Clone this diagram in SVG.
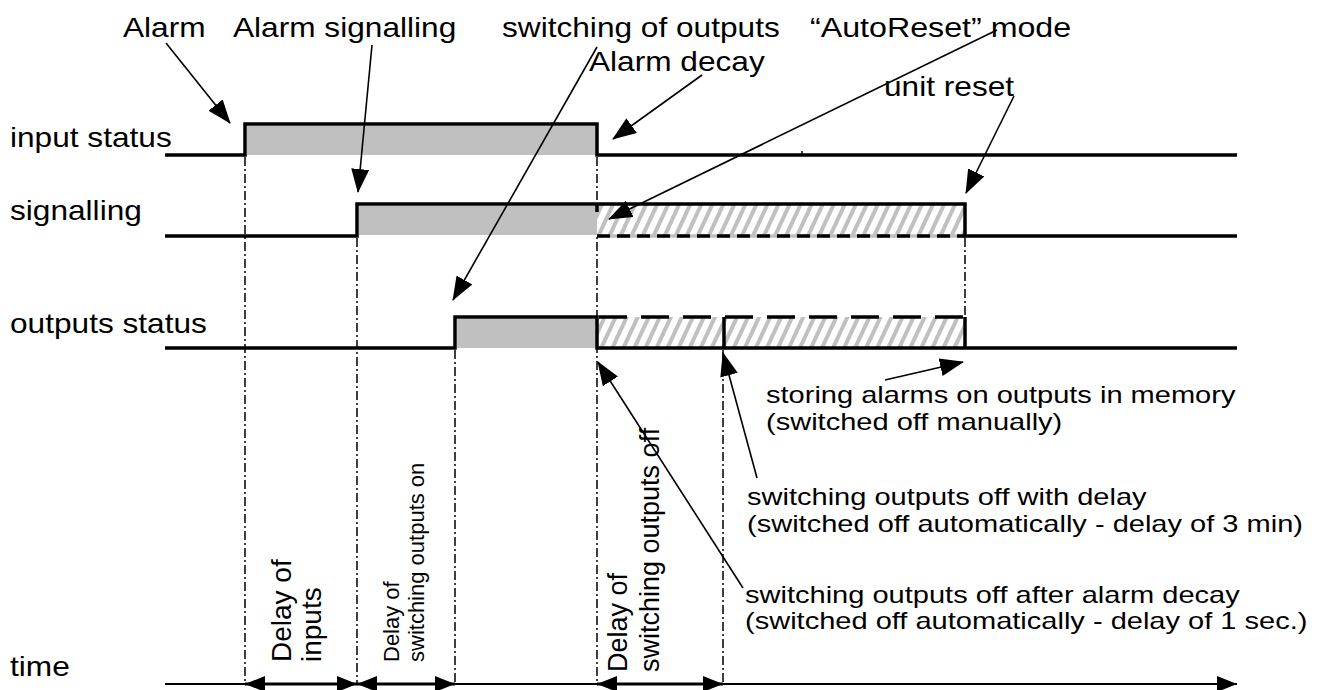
<svg xmlns="http://www.w3.org/2000/svg" width="1329" height="690" viewBox="0 0 1329 690">
<defs>
<style>
.t{font-family:"Liberation Sans",Arial,sans-serif;font-size:28px;fill:#000}
.s{font-family:"Liberation Sans",Arial,sans-serif;font-size:24px;fill:#000}
.rb{font-family:"Liberation Sans",Arial,sans-serif;font-size:27px;fill:#000}
.rs{font-family:"Liberation Sans",Arial,sans-serif;font-size:22px;fill:#000}
.wave{fill:none;stroke:#000;stroke-width:3.5;stroke-linejoin:miter;stroke-linecap:butt}
.dd{fill:none;stroke:#000;stroke-width:1.5;stroke-dasharray:9 3 2 3}
.ann{fill:none;stroke:#000;stroke-width:1.6;marker-end:url(#ah)}
.dim{fill:none;stroke:#000;stroke-width:3;marker-start:url(#dh);marker-end:url(#dh)}
.gray{fill:#c0c0c0}
.hat{fill:url(#hatch)}
</style>
<pattern id="hatch" width="10" height="10" patternUnits="userSpaceOnUse" patternTransform="rotate(25)">
<rect width="10" height="10" fill="#fff"/>
<rect width="4" height="10" fill="#c0c0c0"/>
</pattern>
<marker id="ah" viewBox="0 0 24 18" refX="23" refY="9" markerWidth="24" markerHeight="18" markerUnits="userSpaceOnUse" orient="auto"><path d="M0,0 L24,9 L0,18 z" fill="#000"/></marker>
<marker id="dh" viewBox="0 0 20 16" refX="20" refY="8" markerWidth="20" markerHeight="16" markerUnits="userSpaceOnUse" orient="auto-start-reverse"><path d="M0,0 L20,8 L0,16 z" fill="#000"/></marker>
</defs>
<rect width="1329" height="690" fill="#fff"/>

<g id="guides">
<path class="dd" d="M245,157 V684"/>
<path class="dd" d="M357,238 V684"/>
<path class="dd" d="M455,350 V684"/>
<path class="dd" d="M597,157 V684"/>
<path class="dd" d="M723,350 V684"/>
<path class="dd" d="M965,238 V317"/>
</g>

<g id="input-status">
<rect class="gray" x="247" y="126" width="349" height="29"/>
<path class="wave" d="M165,155 H245 V124 H597 V155 H1237"/>
<path d="M802,151 V154" stroke="#000" stroke-width="1.5"/>
<text class="t" transform="translate(10,147) scale(1.13,1)">input status</text>
</g>

<g id="signalling">
<rect class="gray" x="359" y="206" width="238" height="29"/>
<rect class="hat" x="597" y="204" width="368" height="32"/>
<path d="M599,236 H965" stroke="#c0c0c0" stroke-width="3.5"/>
<path class="wave" d="M165,236 H357 V204 H965 V236 H1237"/>
<path class="wave" d="M597,204 V212"/>
<path class="wave" d="M597,236 H965" stroke-dasharray="13 7"/>
<text class="t" transform="translate(10,220) scale(1.13,1)">signalling</text>
</g>

<g id="outputs-status">
<rect class="gray" x="457" y="319" width="140" height="29"/>
<rect class="hat" x="597" y="317" width="368" height="31"/>
<path class="wave" d="M165,348 H455 V317 H597 V348 H1237"/>
<path class="wave" d="M724,317 V348 M965,317 V348"/>
<path class="wave" d="M599,317 H965" stroke-dasharray="28 14"/>
<text class="t" transform="translate(10,333) scale(1.13,1)">outputs status</text>
</g>

<g id="time-axis">
<path d="M165,684 H1237" stroke="#000" stroke-width="2" marker-end="url(#dh)"/>
<path class="dim" d="M245,684 H357"/>
<path class="dim" d="M357,684 H455"/>
<path class="dim" d="M597,684 H723"/>
<text class="t" transform="translate(10,676) scale(1.13,1)">time</text>
</g>

<g id="delay-inputs">
<text class="t" transform="translate(291,662) rotate(-90)">Delay of</text>
<text class="t" transform="translate(321,662) rotate(-90)">inputs</text>
</g>
<g id="delay-on">
<text class="rs" transform="translate(399,662) rotate(-90)">Delay of</text>
<text class="rs" transform="translate(424,662) rotate(-90)">switching outputs on</text>
</g>
<g id="delay-off">
<text class="rb" transform="translate(627,672) rotate(-90)">Delay of</text>
<text class="rb" transform="translate(659,672) rotate(-90)">switching outputs off</text>
</g>

<g id="label-alarm"><text class="t" transform="translate(123,37) scale(1.13,1)">Alarm</text></g>
<g id="label-alarm-signalling"><text class="t" transform="translate(233,37) scale(1.13,1)">Alarm signalling</text></g>
<g id="label-switching-outputs"><text class="t" transform="translate(502,37) scale(1.13,1)">switching of outputs</text></g>
<g id="label-autoreset"><text class="t" transform="translate(810,37) scale(1.15,1)">“AutoReset” mode</text></g>
<g id="label-alarm-decay"><text class="t" transform="translate(589,71) scale(1.13,1)">Alarm decay</text></g>
<g id="label-unit-reset"><text class="t" transform="translate(884,96) scale(1.13,1)">unit reset</text></g>

<g id="label-storing">
<text class="s" transform="translate(766,403) scale(1.21,1)">storing alarms on outputs in memory</text>
<text class="s" transform="translate(766,430) scale(1.21,1)">(switched off manually)</text>
</g>
<g id="label-off-delay">
<text class="s" transform="translate(747,505) scale(1.21,1)">switching outputs off with delay</text>
<text class="s" transform="translate(747,532) scale(1.21,1)">(switched off automatically - delay of 3 min)</text>
</g>
<g id="label-off-decay">
<text class="s" transform="translate(745,603) scale(1.21,1)">switching outputs off after alarm decay</text>
<text class="s" transform="translate(745,629) scale(1.21,1)">(switched off automatically - delay of 1 sec.)</text>
</g>

<g id="connectors">
<path class="ann" d="M166,43 L230,123"/>
<path class="ann" d="M372,45 L358,192"/>
<path class="ann" d="M597,47 L453,300"/>
<path class="ann" d="M702,75 L613,139"/>
<path class="ann" d="M997,30 L609,219"/>
<path class="ann" d="M1014,96 L966,193"/>
<path class="ann" d="M885,380 L963,362"/>
<path class="ann" d="M757,478 L723,353"/>
<path class="ann" d="M743,588 L598,362"/>
</g>
</svg>
